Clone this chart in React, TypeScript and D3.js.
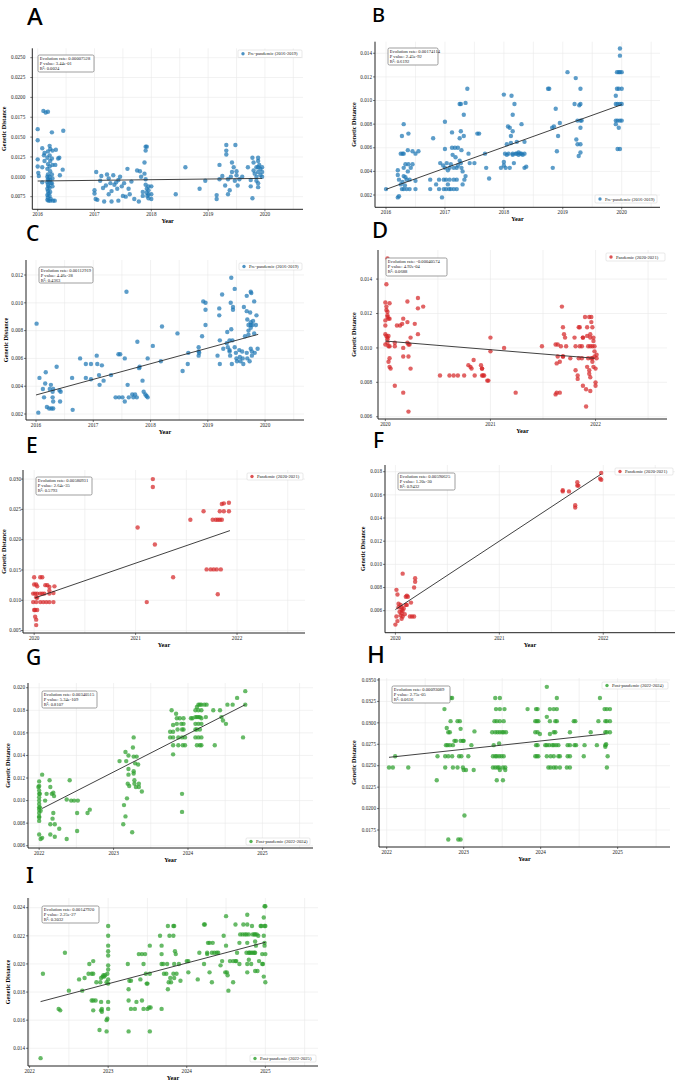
import React from 'react';
import * as d3 from 'd3';

type Pt = [number, number];

// ---------- A: pre-pandemic ----------
const ptsA: Pt[] = [
  [2016.0, 0.016], [2016.0, 0.0146], [2016.0, 0.0122], [2016.0, 0.0113], [2016.01, 0.0105], [2016.02, 0.0101],
  [2016.08, 0.0136], [2016.08, 0.0112], [2016.08, 0.0093],
  [2016.1, 0.0183], [2016.14, 0.0181], [2016.12, 0.013], [2016.11, 0.0127], [2016.12, 0.012],
  [2016.18, 0.0182], [2016.18, 0.0132], [2016.17, 0.0124], [2016.18, 0.0116], [2016.17, 0.011], [2016.18, 0.0103],
  [2016.17, 0.01], [2016.18, 0.0097], [2016.19, 0.0095], [2016.17, 0.0093], [2016.18, 0.009], [2016.19, 0.0088],
  [2016.17, 0.0085], [2016.18, 0.0082], [2016.19, 0.0079], [2016.17, 0.0077], [2016.18, 0.0074], [2016.17, 0.0071], [2016.19, 0.007],
  [2016.21, 0.0139], [2016.22, 0.0135], [2016.21, 0.0127], [2016.22, 0.012], [2016.21, 0.0113], [2016.22, 0.0107],
  [2016.21, 0.01], [2016.22, 0.0096], [2016.23, 0.0092], [2016.21, 0.0086], [2016.22, 0.0081], [2016.21, 0.0076], [2016.23, 0.0072], [2016.22, 0.007],
  [2016.25, 0.0156], [2016.26, 0.0133], [2016.25, 0.0123], [2016.26, 0.0115], [2016.25, 0.0103], [2016.26, 0.0098],
  [2016.25, 0.0092], [2016.26, 0.0088], [2016.27, 0.007],
  [2016.32, 0.0134], [2016.31, 0.0115], [2016.3, 0.007], [2016.38, 0.0124], [2016.36, 0.0123], [2016.39, 0.0102],
  [2016.45, 0.0158], [2016.44, 0.0109],
  [2017.0, 0.0083], [2017.0, 0.0079], [2017.02, 0.0072], [2017.03, 0.0106], [2017.05, 0.0071], [2017.1, 0.0095],
  [2017.12, 0.0101], [2017.15, 0.0086], [2017.17, 0.0069], [2017.2, 0.0089], [2017.22, 0.0103], [2017.25, 0.0098],
  [2017.25, 0.0078], [2017.28, 0.0092], [2017.3, 0.0082], [2017.3, 0.0069], [2017.33, 0.0102], [2017.35, 0.009],
  [2017.38, 0.0093], [2017.4, 0.0085], [2017.42, 0.0096], [2017.42, 0.007], [2017.45, 0.01], [2017.48, 0.0088],
  [2017.5, 0.0076], [2017.52, 0.0092], [2017.55, 0.0075], [2017.58, 0.011], [2017.6, 0.0085], [2017.62, 0.0078],
  [2017.65, 0.0094], [2017.7, 0.0072], [2017.75, 0.0108], [2017.78, 0.0069], [2017.8, 0.0107], [2017.82, 0.01],
  [2017.85, 0.0081], [2017.85, 0.0076], [2017.88, 0.0118], [2017.88, 0.0104], [2017.9, 0.0138], [2017.9, 0.0133],
  [2017.9, 0.0097], [2017.9, 0.009], [2017.92, 0.0138], [2017.92, 0.0085], [2017.92, 0.008], [2017.93, 0.0076],
  [2017.95, 0.0088], [2017.95, 0.0083], [2017.95, 0.0078], [2017.95, 0.0073], [2018.0, 0.0088], [2018.0, 0.0078], [2018.0, 0.0072],
  [2018.43, 0.0078], [2018.6, 0.0112], [2018.85, 0.0085],
  [2018.95, 0.0095], [2019.15, 0.0072], [2019.15, 0.0077], [2019.2, 0.0115], [2019.2, 0.0097], [2019.25, 0.0101],
  [2019.3, 0.0089], [2019.32, 0.014], [2019.32, 0.0133], [2019.32, 0.0128], [2019.35, 0.0078], [2019.35, 0.0097],
  [2019.38, 0.0083], [2019.4, 0.01], [2019.42, 0.0106], [2019.42, 0.0118], [2019.45, 0.0112], [2019.47, 0.0095],
  [2019.48, 0.014], [2019.5, 0.0102], [2019.52, 0.0089], [2019.5, 0.0107], [2019.55, 0.0097], [2019.6, 0.01],
  [2019.7, 0.0112], [2019.75, 0.0088], [2019.75, 0.0096], [2019.78, 0.0073], [2019.78, 0.0124], [2019.8, 0.0118],
  [2019.8, 0.0108], [2019.82, 0.0104], [2019.85, 0.0112], [2019.85, 0.01], [2019.85, 0.0095], [2019.88, 0.0124],
  [2019.88, 0.012], [2019.88, 0.0112], [2019.88, 0.0106], [2019.88, 0.0092], [2019.88, 0.0087], [2019.9, 0.0115],
  [2019.92, 0.011], [2019.92, 0.0102], [2019.95, 0.0112], [2019.95, 0.0106], [2019.95, 0.01],
];
const fitA: Pt[] = [[2016.0, 0.00947], [2019.95, 0.0098]];
const yTicksA = [0.0075, 0.01, 0.0125, 0.015, 0.0175, 0.02, 0.0225, 0.025];
const statsA = ['Evolution rate: 0.00007528', 'P value: 3.44e-01', 'R²: 0.0024'];

// ---------- B: pre-pandemic ----------
const ptsB: Pt[] = [
  [2016.0, 0.0025],
  [2016.2, 0.0018], [2016.22, 0.0019], [2016.2, 0.0041], [2016.2, 0.0037], [2016.22, 0.0033], [2016.25, 0.0055],
  [2016.27, 0.007], [2016.28, 0.0055], [2016.28, 0.0031], [2016.3, 0.0025], [2016.3, 0.0055], [2016.3, 0.008],
  [2016.3, 0.0043], [2016.32, 0.0028], [2016.33, 0.0035], [2016.33, 0.0046], [2016.35, 0.0025], [2016.35, 0.0033],
  [2016.37, 0.004], [2016.37, 0.0058], [2016.38, 0.0072], [2016.38, 0.0046], [2016.4, 0.0025], [2016.4, 0.0033],
  [2016.42, 0.0043], [2016.45, 0.0046], [2016.45, 0.0057], [2016.5, 0.0025], [2016.5, 0.0032], [2016.5, 0.0055],
  [2016.55, 0.0057], [2016.3, 0.0036], [2016.27, 0.0025], [2016.25, 0.0029],
  [2016.75, 0.0033], [2016.75, 0.0025], [2016.8, 0.0068], [2016.85, 0.0029], [2016.9, 0.0025], [2016.9, 0.0033],
  [2016.92, 0.0047], [2016.95, 0.0018], [2016.97, 0.0045], [2016.98, 0.0033], [2016.98, 0.0025], [2017.0, 0.0082],
  [2017.0, 0.0059], [2017.0, 0.0043], [2017.02, 0.0025], [2017.02, 0.0033], [2017.03, 0.0047], [2017.05, 0.0041],
  [2017.05, 0.0029], [2017.07, 0.0025], [2017.08, 0.0033], [2017.08, 0.0043], [2017.1, 0.0046], [2017.1, 0.0025],
  [2017.12, 0.0073], [2017.12, 0.006], [2017.13, 0.0054], [2017.15, 0.0043], [2017.15, 0.0033], [2017.15, 0.0025],
  [2017.17, 0.006], [2017.18, 0.0052], [2017.2, 0.0043], [2017.2, 0.0025], [2017.2, 0.0033], [2017.22, 0.006],
  [2017.22, 0.0045], [2017.25, 0.0049], [2017.25, 0.0068], [2017.25, 0.0097], [2017.27, 0.0097], [2017.27, 0.0074],
  [2017.27, 0.0047], [2017.28, 0.0043], [2017.28, 0.0058], [2017.3, 0.004], [2017.3, 0.0029], [2017.32, 0.0088],
  [2017.32, 0.007], [2017.33, 0.0033], [2017.35, 0.0036], [2017.35, 0.0098], [2017.38, 0.011], [2017.4, 0.0055],
  [2017.42, 0.0047], [2017.5, 0.0047], [2017.55, 0.0072], [2017.58, 0.0072],
  [2017.68, 0.0055], [2017.7, 0.0043], [2017.75, 0.0034], [2017.95, 0.0043], [2018.0, 0.0105], [2018.0, 0.0048],
  [2018.0, 0.0045], [2018.02, 0.0055], [2018.03, 0.0043], [2018.05, 0.0063], [2018.07, 0.0078], [2018.08, 0.0055],
  [2018.1, 0.0077], [2018.1, 0.0043], [2018.12, 0.0064], [2018.12, 0.007], [2018.13, 0.0104], [2018.15, 0.0088],
  [2018.15, 0.0074], [2018.15, 0.0055], [2018.17, 0.0047], [2018.18, 0.0097], [2018.2, 0.0055], [2018.22, 0.0065],
  [2018.25, 0.0056], [2018.28, 0.0055], [2018.3, 0.008], [2018.3, 0.0055], [2018.35, 0.0065], [2018.35, 0.0043],
  [2018.35, 0.0055], [2018.38, 0.0044], [2018.05, 0.0054], [2018.15, 0.0054], [2018.22, 0.0055], [2018.25, 0.0054], [2018.32, 0.0054],
  [2018.75, 0.011], [2018.77, 0.011], [2018.82, 0.0077], [2018.83, 0.0043], [2018.85, 0.0078], [2018.88, 0.0093],
  [2018.9, 0.0057], [2018.92, 0.007], [2018.95, 0.0081], [2019.08, 0.0124], [2019.2, 0.0097], [2019.22, 0.0119],
  [2019.23, 0.0067], [2019.25, 0.0063], [2019.25, 0.0083], [2019.27, 0.0053], [2019.28, 0.0096], [2019.3, 0.011],
  [2019.3, 0.0097], [2019.3, 0.0083], [2019.3, 0.0077], [2019.3, 0.0063], [2019.3, 0.0056], [2019.32, 0.0083],
  [2019.92, 0.0124], [2019.95, 0.0124], [2019.97, 0.0124], [2020.0, 0.0124], [2019.97, 0.0144], [2019.97, 0.0138],
  [2019.9, 0.0104], [2019.92, 0.011], [2019.95, 0.011], [2020.0, 0.011], [2019.9, 0.0097], [2019.93, 0.0097],
  [2019.97, 0.0097], [2020.0, 0.0097], [2019.9, 0.0083], [2019.93, 0.0083], [2019.97, 0.0083], [2020.0, 0.0083],
  [2019.95, 0.0077], [2019.93, 0.0059], [2019.97, 0.0059], [2019.9, 0.008],
];
const fitB: Pt[] = [[2016.0, 0.00248], [2020.0, 0.00965]];
const yTicksB = [0.002, 0.004, 0.006, 0.008, 0.01, 0.012, 0.014];
const statsB = ['Evolution rate: 0.00174114', 'P value: 2.45e-92', 'R²: 0.6192'];

// ---------- C: pre-pandemic ----------
const ptsC: Pt[] = [
  [2016.01, 0.0085], [2016.04, 0.0021], [2016.06, 0.0046], [2016.12, 0.0038], [2016.14, 0.0032], [2016.16, 0.0042],
  [2016.17, 0.005], [2016.19, 0.0025], [2016.23, 0.0024], [2016.24, 0.0038], [2016.26, 0.0041], [2016.27, 0.0024],
  [2016.29, 0.0032], [2016.29, 0.0036], [2016.3, 0.0038], [2016.3, 0.0029], [2016.3, 0.0024], [2016.36, 0.0054],
  [2016.41, 0.0037], [2016.43, 0.0036], [2016.42, 0.0029], [2016.63, 0.0046], [2016.64, 0.0023], [2016.77, 0.006],
  [2016.87, 0.0056], [2016.87, 0.0046], [2016.96, 0.0056], [2016.96, 0.0045], [2017.06, 0.0062], [2017.07, 0.0056],
  [2017.1, 0.0048], [2017.11, 0.0041], [2017.15, 0.0055], [2017.18, 0.0044], [2017.31, 0.0048], [2017.39, 0.0032],
  [2017.45, 0.0032], [2017.51, 0.0032], [2017.44, 0.0063], [2017.47, 0.0063], [2017.55, 0.006], [2017.55, 0.0029],
  [2017.58, 0.0108], [2017.6, 0.0041], [2017.62, 0.0032], [2017.68, 0.0034], [2017.7, 0.0032], [2017.73, 0.0034],
  [2017.76, 0.0032], [2017.77, 0.0072], [2017.8, 0.0053], [2017.81, 0.0054], [2017.86, 0.0044], [2017.88, 0.0036],
  [2017.91, 0.0034], [2017.93, 0.0033], [2017.95, 0.0032], [2017.95, 0.006], [2018.04, 0.0069], [2018.18, 0.0058],
  [2018.2, 0.0083], [2018.47, 0.0078], [2018.56, 0.0051], [2018.65, 0.0056], [2018.66, 0.0064], [2018.84, 0.0068],
  [2018.84, 0.0065], [2018.84, 0.0062], [2018.85, 0.0064], [2018.9, 0.0076], [2018.92, 0.0101], [2018.96, 0.01],
  [2018.96, 0.0095], [2018.96, 0.0084], [2019.17, 0.0062], [2019.2, 0.0091], [2019.2, 0.0096], [2019.21, 0.0073],
  [2019.21, 0.0056], [2019.25, 0.0106], [2019.27, 0.0067], [2019.34, 0.0079], [2019.33, 0.0071], [2019.35, 0.0068],
  [2019.38, 0.0073], [2019.38, 0.0066], [2019.38, 0.0065], [2019.39, 0.0062], [2019.4, 0.01], [2019.41, 0.0081],
  [2019.42, 0.0056], [2019.41, 0.0118], [2019.43, 0.0073], [2019.44, 0.0095], [2019.44, 0.0097], [2019.47, 0.011],
  [2019.47, 0.0068], [2019.49, 0.0064], [2019.5, 0.006], [2019.51, 0.0058], [2019.55, 0.0066], [2019.56, 0.0061],
  [2019.57, 0.0058], [2019.6, 0.0065], [2019.61, 0.006], [2019.62, 0.0056], [2019.63, 0.0097], [2019.65, 0.0076],
  [2019.68, 0.0105], [2019.68, 0.0094], [2019.69, 0.0088], [2019.68, 0.0064], [2019.69, 0.006], [2019.71, 0.0084],
  [2019.71, 0.008], [2019.71, 0.0077], [2019.73, 0.0058], [2019.74, 0.0093], [2019.75, 0.0108], [2019.76, 0.0107],
  [2019.75, 0.0086], [2019.75, 0.0084], [2019.75, 0.0082], [2019.75, 0.0067], [2019.77, 0.0065], [2019.77, 0.0062],
  [2019.78, 0.0084], [2019.79, 0.0087], [2019.81, 0.0101], [2019.81, 0.0078], [2019.82, 0.0064], [2019.85, 0.0091],
  [2019.87, 0.0067], [2019.84, 0.0084],
];
const fitC: Pt[] = [[2016.0, 0.00337], [2019.88, 0.00773]];
const yTicksC = [0.002, 0.004, 0.006, 0.008, 0.01, 0.012];
const statsC = ['Evolution rate: 0.00112919', 'P value: 4.46e-28', 'R²: 0.4363'];

// ---------- D: pandemic ----------
const ptsD: Pt[] = [
  [2020.02, 0.0152], [2020.01, 0.0137], [2020.0, 0.01264], [2020.01, 0.0124], [2020.01, 0.0122], [2020.02, 0.0121],
  [2020.02, 0.0119], [2020.0, 0.0116], [2020.0, 0.0113], [2020.02, 0.0118], [2020.03, 0.0117], [2020.04, 0.0126],
  [2020.04, 0.0117], [2020.0, 0.0108], [2020.01, 0.0107], [2020.02, 0.0106], [2020.03, 0.0107], [2020.0, 0.0102],
  [2020.02, 0.0103], [2020.03, 0.0101], [2020.04, 0.0101], [2020.02, 0.0105], [2020.03, 0.0092], [2020.04, 0.0094],
  [2020.04, 0.0089], [2020.05, 0.0088], [2020.09, 0.0103], [2020.09, 0.0101], [2020.09, 0.0078], [2020.11, 0.0113],
  [2020.14, 0.0113], [2020.16, 0.0114], [2020.17, 0.0117], [2020.17, 0.01], [2020.17, 0.0095], [2020.17, 0.0074],
  [2020.21, 0.0127], [2020.21, 0.0115], [2020.21, 0.0103], [2020.22, 0.0095], [2020.22, 0.0102], [2020.23, 0.0102],
  [2020.22, 0.0063], [2020.24, 0.0088], [2020.24, 0.0106], [2020.28, 0.0114], [2020.31, 0.0123], [2020.31, 0.0129],
  [2020.31, 0.0108], [2020.36, 0.0124],
  [2020.52, 0.0084], [2020.61, 0.0084], [2020.65, 0.0084], [2020.69, 0.0084], [2020.75, 0.0084], [2020.79, 0.009],
  [2020.81, 0.0089], [2020.82, 0.0088], [2020.84, 0.0093], [2020.85, 0.0084], [2020.91, 0.009], [2020.92, 0.0088],
  [2020.92, 0.0088], [2020.92, 0.0084], [2020.93, 0.0084], [2020.94, 0.0084], [2020.97, 0.0081], [2020.98, 0.0081],
  [2021.0, 0.0098], [2021.0, 0.0106], [2021.13, 0.01], [2021.24, 0.0074], [2021.49, 0.0101],
  [2021.62, 0.0102], [2021.63, 0.0091], [2021.64, 0.0102], [2021.62, 0.0073], [2021.63, 0.0074], [2021.66, 0.0074],
  [2021.64, 0.0095], [2021.66, 0.0092], [2021.67, 0.0101], [2021.68, 0.0124], [2021.69, 0.0112], [2021.69, 0.0095],
  [2021.69, 0.0095], [2021.7, 0.0108], [2021.71, 0.0106], [2021.72, 0.0101], [2021.76, 0.0094], [2021.8, 0.0106],
  [2021.81, 0.0101], [2021.81, 0.0087], [2021.83, 0.0084], [2021.83, 0.0082], [2021.84, 0.0094], [2021.84, 0.0112],
  [2021.85, 0.0112], [2021.85, 0.0101], [2021.87, 0.0101], [2021.88, 0.0106], [2021.88, 0.0106], [2021.87, 0.0094],
  [2021.88, 0.0078], [2021.9, 0.0118], [2021.91, 0.0076], [2021.91, 0.0066], [2021.92, 0.0089], [2021.92, 0.0112],
  [2021.92, 0.0107], [2021.93, 0.0101], [2021.93, 0.0094], [2021.94, 0.0118], [2021.94, 0.0087], [2021.94, 0.0085],
  [2021.95, 0.0083], [2021.95, 0.0075], [2021.95, 0.0108], [2021.95, 0.0106], [2021.95, 0.0101], [2021.96, 0.0094],
  [2021.96, 0.0118], [2021.96, 0.0115], [2021.97, 0.0112], [2021.97, 0.0101], [2021.97, 0.0094], [2021.97, 0.0092],
  [2021.98, 0.0089], [2021.98, 0.0106], [2021.98, 0.0104], [2021.99, 0.0101], [2021.99, 0.0098], [2021.99, 0.0095],
  [2022.0, 0.008], [2022.0, 0.0078], [2022.0, 0.0088], [2022.01, 0.0096], [2022.01, 0.0094],
];
const fitD: Pt[] = [[2020.0, 0.0104], [2021.99, 0.0094]];
const yTicksD = [0.006, 0.008, 0.01, 0.012, 0.014];
const statsD = ['Evolution rate: -0.00040574', 'P value: 4.92e-04', 'R²: 0.0688'];

// ---------- E: pandemic ----------
const ptsE: Pt[] = [
  [2020.0, 0.0138], [2020.06, 0.0138], [2020.08, 0.0138], [2020.0, 0.0126], [2020.02, 0.0126], [2020.03, 0.0123],
  [2019.99, 0.0111], [2020.01, 0.0111], [2020.03, 0.0111], [2020.06, 0.0111], [2020.08, 0.0111], [2020.1, 0.0111],
  [2020.15, 0.0111], [2020.19, 0.0112],
  [2019.99, 0.0097], [2020.02, 0.0097], [2020.06, 0.0097], [2020.09, 0.0097], [2020.12, 0.0097], [2020.15, 0.0097], [2020.19, 0.0097],
  [2020.0, 0.0084], [2020.01, 0.0084], [2020.03, 0.0084], [2020.01, 0.0073], [2020.02, 0.0068], [2020.02, 0.0059],
  [2020.02, 0.0105], [2020.03, 0.0104], [2020.11, 0.0125], [2020.13, 0.0125], [2020.15, 0.0122], [2020.2, 0.0123],
  [2020.15, 0.0116],
  [2021.02, 0.022], [2021.11, 0.0097], [2021.17, 0.03], [2021.17, 0.0287], [2021.19, 0.0192], [2021.37, 0.0138],
  [2021.54, 0.0233], [2021.67, 0.0247], [2021.76, 0.0233], [2021.79, 0.0233], [2021.81, 0.0233], [2021.83, 0.0233],
  [2021.85, 0.0233], [2021.83, 0.0247], [2021.87, 0.0247], [2021.92, 0.0247], [2021.85, 0.0259], [2021.87, 0.026],
  [2021.92, 0.0261], [2021.7, 0.0151], [2021.74, 0.0151], [2021.77, 0.0151], [2021.8, 0.0151], [2021.84, 0.0151],
  [2021.81, 0.011],
];
const fitE: Pt[] = [[2020.01, 0.0104], [2021.93, 0.0215]];
const yTicksE = [0.005, 0.01, 0.015, 0.02, 0.025, 0.03];
const statsE = ['Evolution rate: 0.00580931', 'P value: 2.64e-35', 'R²: 0.5793'];

// ---------- F: pandemic ----------
const ptsF: Pt[] = [
  [2020.01, 0.0078], [2020.02, 0.0074], [2020.07, 0.0092], [2020.03, 0.0066], [2020.03, 0.0063], [2020.05, 0.0065],
  [2020.06, 0.0063], [2020.06, 0.0061], [2020.07, 0.006], [2020.06, 0.0058], [2020.08, 0.0062], [2020.04, 0.0059],
  [2020.05, 0.0056], [2020.07, 0.0055], [2020.09, 0.0057], [2020.1, 0.0072], [2020.11, 0.0073], [2020.12, 0.0072],
  [2020.1, 0.0065], [2020.11, 0.0065], [2020.15, 0.0067], [2020.19, 0.0088], [2020.19, 0.0085], [2020.18, 0.008],
  [2020.01, 0.0055], [2020.02, 0.0051], [2020.0, 0.0048], [2020.06, 0.0053], [2020.14, 0.0055], [2020.16, 0.0055],
  [2020.18, 0.0055],
  [2021.61, 0.0164], [2021.61, 0.0163], [2021.67, 0.0163], [2021.73, 0.0151], [2021.73, 0.0149], [2021.75, 0.0171],
  [2021.75, 0.0168], [2021.76, 0.0168], [2021.98, 0.0179], [2021.97, 0.0174], [2021.98, 0.0173],
];
const fitF: Pt[] = [[2020.0, 0.0061], [2021.98, 0.0178]];
const yTicksF = [0.006, 0.008, 0.01, 0.012, 0.014, 0.016, 0.018];
const statsF = ['Evolution rate: 0.00590625', 'P value: 1.20e-30', 'R²: 0.9432'];

// ---------- G: post-pandemic ----------
const ptsG: Pt[] = [
  [2022.0, 0.0117], [2022.0, 0.0113], [2022.0, 0.0109], [2022.0, 0.0106], [2022.0, 0.0103], [2022.0, 0.01],
  [2022.0, 0.0097], [2022.0, 0.0094], [2022.0, 0.0092], [2022.0, 0.0089], [2022.0, 0.0086], [2022.0, 0.0082],
  [2021.99, 0.0112], [2022.01, 0.0106], [2022.01, 0.0094], [2022.02, 0.0091], [2022.0, 0.0085],
  [2022.0, 0.007], [2022.02, 0.0066], [2022.04, 0.0067], [2022.04, 0.0123], [2022.08, 0.01], [2022.1, 0.0106],
  [2022.14, 0.0118], [2022.15, 0.0112], [2022.15, 0.0079], [2022.15, 0.007], [2022.17, 0.0106], [2022.19, 0.0107],
  [2022.2, 0.0104], [2022.19, 0.0089], [2022.18, 0.0084], [2022.21, 0.0079], [2022.21, 0.0068], [2022.27, 0.0075],
  [2022.37, 0.0101], [2022.37, 0.0066], [2022.41, 0.0118], [2022.43, 0.01], [2022.47, 0.01], [2022.52, 0.01],
  [2022.51, 0.0089], [2022.51, 0.0073], [2022.65, 0.0089], [2022.68, 0.0092],
  [2023.08, 0.0135], [2023.13, 0.0079], [2023.14, 0.0096], [2023.16, 0.0143], [2023.17, 0.0135], [2023.16, 0.0086],
  [2023.18, 0.0102], [2023.19, 0.0115], [2023.2, 0.014], [2023.2, 0.0128], [2023.21, 0.0113], [2023.2, 0.0123],
  [2023.25, 0.0072], [2023.27, 0.0156], [2023.26, 0.0147], [2023.27, 0.0139], [2023.27, 0.0126], [2023.27, 0.0124],
  [2023.28, 0.0118], [2023.28, 0.0115], [2023.29, 0.0133], [2023.3, 0.0112], [2023.31, 0.0139], [2023.33, 0.0132],
  [2023.34, 0.0115], [2023.34, 0.0112], [2023.38, 0.0108],
  [2023.76, 0.0161], [2023.76, 0.0156], [2023.78, 0.018], [2023.8, 0.0167], [2023.8, 0.0161], [2023.8, 0.0156],
  [2023.8, 0.0149], [2023.8, 0.0141], [2023.84, 0.0177], [2023.85, 0.0173], [2023.85, 0.0168], [2023.86, 0.0163],
  [2023.87, 0.0156], [2023.87, 0.0149], [2023.89, 0.0173], [2023.91, 0.0168], [2023.92, 0.0163], [2023.92, 0.0156],
  [2023.93, 0.0149], [2023.92, 0.0106], [2023.92, 0.009], [2023.94, 0.0173], [2023.94, 0.0168], [2023.94, 0.0163],
  [2023.96, 0.0156], [2023.96, 0.0149],
  [2024.04, 0.0173], [2024.06, 0.0173], [2024.1, 0.018], [2024.12, 0.0183], [2024.14, 0.0185], [2024.16, 0.0185],
  [2024.18, 0.0185], [2024.22, 0.0185], [2024.25, 0.0185], [2024.1, 0.0174], [2024.12, 0.0174], [2024.14, 0.0174],
  [2024.16, 0.0174], [2024.18, 0.0173], [2024.1, 0.0168], [2024.14, 0.0168], [2024.18, 0.0168], [2024.1, 0.0163],
  [2024.12, 0.0163], [2024.16, 0.0163], [2024.1, 0.0156], [2024.14, 0.0156], [2024.18, 0.0156], [2024.12, 0.0149],
  [2024.16, 0.0149], [2024.18, 0.0149], [2024.14, 0.018], [2024.18, 0.018], [2024.24, 0.0174],
  [2024.34, 0.018], [2024.36, 0.0149], [2024.43, 0.018], [2024.45, 0.0174], [2024.47, 0.0171], [2024.51, 0.0168],
  [2024.53, 0.0185], [2024.6, 0.0185], [2024.66, 0.0191], [2024.74, 0.0156], [2024.77, 0.0197], [2024.77, 0.0185],
];
const fitG: Pt[] = [[2022.04, 0.0093], [2024.77, 0.0185]];
const yTicksG = [0.006, 0.008, 0.01, 0.012, 0.014, 0.016, 0.018, 0.02];
const statsG = ['Evolution rate: 0.00340515', 'P value: 5.34e-109', 'R²: 0.8107'];

// ---------- H: post-pandemic ----------
const ptsH: Pt[] = [
  [2022.03, 0.0248], [2022.08, 0.0248], [2022.11, 0.0261], [2022.28, 0.0248], [2022.65, 0.0233], [2022.66, 0.0261],
  [2022.75, 0.0316], [2022.76, 0.0261], [2022.77, 0.0274], [2022.79, 0.0274], [2022.82, 0.0274], [2022.86, 0.0274],
  [2022.78, 0.0294], [2022.8, 0.0289], [2022.82, 0.0289], [2022.76, 0.0248], [2022.8, 0.0261], [2022.83, 0.0302],
  [2022.83, 0.0329], [2022.85, 0.0329], [2022.8, 0.0164], [2022.85, 0.0261], [2022.86, 0.0248], [2022.88, 0.0279],
  [2022.9, 0.0279], [2022.92, 0.0248], [2022.92, 0.0302], [2022.95, 0.0302], [2022.93, 0.0164], [2022.96, 0.0164],
  [2022.94, 0.0261], [2022.97, 0.0261], [2022.96, 0.0293], [2022.96, 0.0279], [2022.99, 0.0279], [2023.0, 0.0279],
  [2022.99, 0.0248], [2023.0, 0.0245], [2023.03, 0.0245], [2023.01, 0.0192], [2023.06, 0.0261], [2023.1, 0.0274],
  [2023.13, 0.0245], [2023.14, 0.029],
  [2023.37, 0.0289], [2023.39, 0.0274], [2023.41, 0.0329], [2023.47, 0.0329], [2023.42, 0.0316], [2023.47, 0.0316],
  [2023.53, 0.0316], [2023.4, 0.0302], [2023.43, 0.0302], [2023.47, 0.0302], [2023.52, 0.0302], [2023.41, 0.0289],
  [2023.44, 0.0289], [2023.47, 0.0289], [2023.5, 0.0289], [2023.52, 0.0289], [2023.55, 0.0289], [2023.38, 0.0261],
  [2023.41, 0.0261], [2023.43, 0.0261], [2023.46, 0.0261], [2023.49, 0.0261], [2023.52, 0.0261], [2023.38, 0.0248],
  [2023.41, 0.0248], [2023.44, 0.0248], [2023.46, 0.0248], [2023.51, 0.0248], [2023.54, 0.0248], [2023.43, 0.0233],
  [2023.51, 0.0233], [2023.46, 0.0276], [2023.47, 0.0245], [2023.54, 0.0245],
  [2023.83, 0.0316], [2023.94, 0.0316], [2023.96, 0.0316], [2023.93, 0.0302], [2023.95, 0.0302], [2023.97, 0.0302],
  [2023.93, 0.0289], [2023.96, 0.0289], [2023.99, 0.0287], [2023.94, 0.0274], [2023.96, 0.0274], [2023.93, 0.0261],
  [2023.95, 0.0261], [2023.97, 0.0261],
  [2024.08, 0.0342], [2024.08, 0.0307], [2024.06, 0.0274], [2024.08, 0.0274], [2024.11, 0.0274], [2024.15, 0.0274],
  [2024.17, 0.0274], [2024.2, 0.0274], [2024.23, 0.0274], [2024.08, 0.0261], [2024.13, 0.0261], [2024.17, 0.0261],
  [2024.1, 0.0248], [2024.13, 0.0248], [2024.17, 0.0248], [2024.2, 0.0248], [2024.25, 0.0248], [2024.12, 0.0302],
  [2024.19, 0.0302], [2024.21, 0.0302], [2024.12, 0.0287], [2024.17, 0.0289], [2024.19, 0.0289], [2024.12, 0.0316],
  [2024.17, 0.0316], [2024.21, 0.0329], [2024.21, 0.0316], [2024.23, 0.0261], [2024.25, 0.0261],
  [2024.35, 0.0274], [2024.38, 0.0274], [2024.35, 0.0261], [2024.38, 0.0261], [2024.34, 0.0248], [2024.38, 0.0248],
  [2024.38, 0.0289], [2024.43, 0.0302], [2024.45, 0.0302], [2024.44, 0.0274], [2024.46, 0.0274], [2024.56, 0.0261],
  [2024.57, 0.0274], [2024.65, 0.0289], [2024.73, 0.0274], [2024.75, 0.0302], [2024.77, 0.0329], [2024.83, 0.0316],
  [2024.86, 0.0316], [2024.9, 0.0316], [2024.84, 0.0302], [2024.86, 0.0302], [2024.9, 0.0302], [2024.84, 0.0289],
  [2024.86, 0.0289], [2024.9, 0.0289], [2024.84, 0.0274], [2024.85, 0.0275], [2024.84, 0.0272], [2024.86, 0.0248],
  [2024.87, 0.0261],
];
const fitH: Pt[] = [[2022.03, 0.02598], [2024.84, 0.0287]];
const yTicksH = [0.0175, 0.02, 0.0225, 0.025, 0.0275, 0.03, 0.0325, 0.035];
const statsH = ['Evolution rate: 0.00093089', 'P value: 2.75e-05', 'R²: 0.0616'];

// ---------- I: post-pandemic ----------
const ptsI: Pt[] = [
  [2022.14, 0.0133], [2022.17, 0.0193], [2022.37, 0.0168], [2022.39, 0.0167], [2022.45, 0.0208], [2022.5, 0.0181],
  [2022.63, 0.0189], [2022.67, 0.0181], [2022.7, 0.019], [2022.76, 0.02], [2022.81, 0.0202], [2022.75, 0.0193],
  [2022.79, 0.0193], [2022.81, 0.0193], [2022.79, 0.0174], [2022.81, 0.0174], [2022.84, 0.0174], [2022.81, 0.0167],
  [2022.85, 0.0187], [2022.89, 0.0153], [2022.91, 0.019], [2022.93, 0.0191], [2022.95, 0.0191], [2022.9, 0.0187],
  [2022.91, 0.0173], [2022.91, 0.0167], [2022.92, 0.0166], [2022.92, 0.0168], [2022.94, 0.0192], [2022.96, 0.0192],
  [2022.98, 0.0152], [2022.98, 0.016], [2022.99, 0.0161], [2022.98, 0.0187], [2022.99, 0.0193], [2023.0, 0.0196],
  [2023.0, 0.0199], [2023.0, 0.0227], [2023.0, 0.022], [2023.0, 0.0213], [2023.0, 0.0209], [2023.0, 0.0206],
  [2023.0, 0.0189], [2023.0, 0.0186], [2023.0, 0.0173], [2023.0, 0.0168],
  [2023.25, 0.02], [2023.26, 0.0182], [2023.26, 0.0174], [2023.26, 0.0152], [2023.27, 0.0188], [2023.29, 0.0188],
  [2023.29, 0.0168], [2023.34, 0.0168], [2023.36, 0.0173], [2023.39, 0.0207], [2023.43, 0.0207], [2023.47, 0.0207],
  [2023.41, 0.0189], [2023.43, 0.0174], [2023.45, 0.02], [2023.45, 0.0168], [2023.48, 0.0193], [2023.49, 0.0186],
  [2023.5, 0.0186], [2023.5, 0.0168], [2023.52, 0.0169], [2023.54, 0.0169], [2023.53, 0.0213], [2023.53, 0.0193],
  [2023.53, 0.0152],
  [2023.66, 0.022], [2023.68, 0.0213], [2023.68, 0.0207], [2023.68, 0.02], [2023.68, 0.0168], [2023.7, 0.02],
  [2023.71, 0.0193], [2023.74, 0.0193], [2023.75, 0.02], [2023.76, 0.0227], [2023.76, 0.0182], [2023.77, 0.0187],
  [2023.78, 0.022], [2023.79, 0.019], [2023.8, 0.0187], [2023.83, 0.0227], [2023.84, 0.0227], [2023.83, 0.022],
  [2023.83, 0.0193], [2023.84, 0.019], [2023.84, 0.02], [2023.85, 0.0209], [2023.86, 0.0207], [2023.87, 0.0193],
  [2023.9, 0.02], [2023.92, 0.0188],
  [2024.0, 0.0202], [2024.02, 0.0202], [2024.02, 0.0194], [2024.14, 0.0189], [2024.16, 0.0208], [2024.22, 0.0228],
  [2024.23, 0.0228], [2024.22, 0.02], [2024.26, 0.0207], [2024.26, 0.0208], [2024.27, 0.0215], [2024.29, 0.0215],
  [2024.33, 0.0215], [2024.29, 0.0194], [2024.32, 0.0187], [2024.32, 0.0208], [2024.35, 0.0208], [2024.38, 0.0208],
  [2024.4, 0.0208], [2024.43, 0.0199], [2024.45, 0.0202], [2024.47, 0.022], [2024.49, 0.0194], [2024.51, 0.0194],
  [2024.5, 0.0213], [2024.5, 0.0234], [2024.52, 0.0192], [2024.53, 0.0181], [2024.55, 0.0202], [2024.59, 0.0202],
  [2024.62, 0.0202], [2024.59, 0.0187], [2024.62, 0.0228], [2024.63, 0.0202], [2024.64, 0.0208], [2024.67, 0.0215],
  [2024.67, 0.02], [2024.68, 0.0221], [2024.71, 0.0221], [2024.74, 0.0221], [2024.76, 0.0221], [2024.79, 0.0221],
  [2024.72, 0.0228], [2024.77, 0.0228], [2024.76, 0.0208], [2024.79, 0.0208], [2024.8, 0.0208], [2024.82, 0.0208],
  [2024.84, 0.0208], [2024.86, 0.0208], [2024.87, 0.0208], [2024.77, 0.0235], [2024.77, 0.0215], [2024.77, 0.02],
  [2024.79, 0.0203], [2024.77, 0.0194], [2024.82, 0.02], [2024.83, 0.0227], [2024.84, 0.0221], [2024.86, 0.0221],
  [2024.87, 0.0221], [2024.89, 0.0221], [2024.91, 0.022], [2024.87, 0.0216], [2024.88, 0.0213], [2024.87, 0.0195],
  [2024.9, 0.0195], [2024.92, 0.0202], [2024.94, 0.0227], [2024.95, 0.0227], [2024.96, 0.02], [2024.97, 0.02],
  [2024.96, 0.0207], [2024.98, 0.0233], [2024.98, 0.022], [2024.99, 0.0215], [2024.98, 0.0191], [2024.99, 0.0227],
  [2025.0, 0.0227], [2024.99, 0.0241], [2025.0, 0.0241], [2024.99, 0.0213], [2025.0, 0.0207], [2025.0, 0.0187],
];
const fitI: Pt[] = [[2022.14, 0.01732], [2025.0, 0.02154]];
const yTicksI = [0.014, 0.016, 0.018, 0.02, 0.022, 0.024];
const statsI = ['Evolution rate: 0.00147920', 'P value: 2.25e-27', 'R²: 0.3032'];

const yearsPre = [2016, 2017, 2018, 2019, 2020];
const yearsPan = [2020, 2021, 2022];
const yearsPost = [2022, 2023, 2024, 2025];

const legendPre = 'Pre-pandemic (2016-2019)';
const legendPan = 'Pandemic (2020-2021)';
const legendPost = 'Post-pandemic (2022-2024)';
const legendPost25 = 'Post-pandemic (2022-2025)';

const BLUE = '#1f77b4';
const RED = '#d62728';
const GREEN = '#2ca02c';

interface PanelSpec {
  letter: string; letterX: number; letterY: number; letterSize: number;
  l: number; r: number; t: number; b: number;
  xDom: [number, number]; yDom: [number, number];
  pts: Pt[]; fit: Pt[]; yTicks: number[]; xTicks: number[]; fmt: string;
  stats: string[]; statBox: number[]; legend: string; legBox: number[];
  color: string; titleX: number; gap: number;
}

const panels: PanelSpec[] = [
  { letter: 'A', letterX: 27, letterY: 25, letterSize: 24, l: 32.3, r: 303, t: 48.3, b: 209.3,
    xDom: [2015.905, 2020.67], yDom: [0.00591, 0.02618], pts: ptsA, fit: fitA, yTicks: yTicksA, xTicks: yearsPre,
    fmt: '.4f', stats: statsA, statBox: [38, 55, 56, 17], legend: legendPre, legBox: [238, 50, 64, 7.5], color: BLUE, titleX: 6, gap: 7 },
  { letter: 'B', letterX: 372, letterY: 22, letterSize: 20, l: 375, r: 660, t: 41.7, b: 207.3,
    xDom: [2015.813, 2020.65], yDom: [0.00096, 0.01498], pts: ptsB, fit: fitB, yTicks: yTicksB, xTicks: yearsPre,
    fmt: '.3f', stats: statsB, statBox: [388, 48, 50, 17], legend: legendPre, legBox: [595, 195, 62, 8], color: BLUE, titleX: 356, gap: 3 },
  { letter: 'C', letterX: 26, letterY: 241, letterSize: 21, l: 26, r: 304, t: 260, b: 420,
    xDom: [2015.825, 2020.68], yDom: [0.00157, 0.01308], pts: ptsC, fit: fitC, yTicks: yTicksC, xTicks: yearsPre,
    fmt: '.3f', stats: statsC, statBox: [39, 267, 54, 16], legend: legendPre, legBox: [239, 263, 63, 7], color: BLUE, titleX: 8, gap: 3 },
  { letter: 'D', letterX: 372, letterY: 238, letterSize: 22, l: 378, r: 667, t: 250, b: 419,
    xDom: [2019.93, 2022.68], yDom: [0.00587, 0.01569], pts: ptsD, fit: fitD, yTicks: yTicksD, xTicks: yearsPan,
    fmt: '.3f', stats: statsD, statBox: [386, 258, 61, 18], legend: legendPan, legBox: [606, 253, 59, 8], color: RED, titleX: 356, gap: 6 },
  { letter: 'E', letterX: 26, letterY: 453, letterSize: 21, l: 23, r: 305, t: 470, b: 633,
    xDom: [2019.89, 2022.67], yDom: [0.0046, 0.0315], pts: ptsE, fit: fitE, yTicks: yTicksE, xTicks: yearsPan,
    fmt: '.3f', stats: statsE, statBox: [36, 477, 56, 18], legend: legendPan, legBox: [247, 473, 56, 7], color: RED, titleX: 6, gap: 2 },
  { letter: 'F', letterX: 373, letterY: 448, letterSize: 21, l: 385, r: 675, t: 465, b: 632.7,
    xDom: [2019.9, 2022.69], yDom: [0.0041, 0.01858], pts: ptsF, fit: fitF, yTicks: yTicksF, xTicks: yearsPan,
    fmt: '.3f', stats: statsF, statBox: [398, 473, 57, 17], legend: legendPan, legBox: [615, 468, 58, 7], color: RED, titleX: 365, gap: 3 },
  { letter: 'G', letterX: 26, letterY: 665, letterSize: 21, l: 28, r: 313, t: 683, b: 848,
    xDom: [2021.85, 2025.68], yDom: [0.0058, 0.02042], pts: ptsG, fit: fitG, yTicks: yTicksG, xTicks: yearsPost,
    fmt: '.3f', stats: statsG, statBox: [42, 691, 55, 17], legend: legendPost, legBox: [246, 838, 64, 7], color: GREEN, titleX: 10, gap: 3 },
  { letter: 'H', letterX: 367, letterY: 663, letterSize: 24, l: 379, r: 670, t: 678, b: 847,
    xDom: [2021.9, 2025.68], yDom: [0.01552, 0.03523], pts: ptsH, fit: fitH, yTicks: yTicksH, xTicks: yearsPost,
    fmt: '.4f', stats: statsH, statBox: [392, 686, 58, 17], legend: legendPost, legBox: [602, 682, 66, 7], color: GREEN, titleX: 356, gap: 3 },
  { letter: 'I', letterX: 26, letterY: 883, letterSize: 22, l: 28, r: 318, t: 898, b: 1066,
    xDom: [2021.98, 2025.67], yDom: [0.01274, 0.02469], pts: ptsI, fit: fitI, yTicks: yTicksI, xTicks: yearsPost,
    fmt: '.3f', stats: statsI, statBox: [42, 906, 57, 17], legend: legendPost25, legBox: [250, 1055, 66, 7], color: GREEN, titleX: 10, gap: 3 },
];

const SERIF = "'Liberation Serif', 'Times New Roman', serif";

function Panel({ p }: { p: PanelSpec }) {
  const x = d3.scaleLinear().domain(p.xDom).range([p.l, p.r]);
  const y = d3.scaleLinear().domain(p.yDom).range([p.b, p.t]);
  const halfYears = d3.range(Math.ceil(p.xDom[0] * 2) / 2, p.xDom[1], 0.5);
  const fmt = d3.format(p.fmt);
  const line = d3.line<Pt>().x(d => x(d[0])).y(d => y(d[1]));
  const [sx, sy, sw, sh] = p.statBox;
  const [lx, ly, lw, lh] = p.legBox;

  return (
    <g>
      <text x={p.letterX} y={p.letterY} fontSize={p.letterSize} fontFamily="'Noto Sans', sans-serif" fontWeight={500}>{p.letter}</text>

      {/* grid */}
      {halfYears.map(g => (
        <line key={'gx' + g} x1={x(g)} x2={x(g)} y1={p.t} y2={p.b} stroke="#e9e9e9" strokeWidth={0.6} />
      ))}
      {p.yTicks.map(v => (
        <line key={'gy' + v} x1={p.l} x2={p.r} y1={y(v)} y2={y(v)} stroke="#e9e9e9" strokeWidth={0.6} />
      ))}

      {/* points */}
      {p.pts.map((d, i) => (
        <circle key={i} cx={x(d[0])} cy={y(d[1])} r={2.2} fill={p.color} fillOpacity={0.72} />
      ))}

      {/* regression line */}
      <path d={line(p.fit) || ''} fill="none" stroke="#2b2b2b" strokeWidth={0.9} />

      {/* axes */}
      <line x1={p.l} x2={p.l} y1={p.t} y2={p.b} stroke="#222" strokeWidth={1} />
      <line x1={p.l} x2={p.r} y1={p.b} y2={p.b} stroke="#222" strokeWidth={1} />
      {p.yTicks.map(v => (
        <g key={'yt' + v}>
          <line x1={p.l - 2} x2={p.l} y1={y(v)} y2={y(v)} stroke="#222" strokeWidth={0.6} />
          <text x={p.l - p.gap} y={y(v)} dy="0.33em" textAnchor="end" fontSize={5.2} fontFamily={SERIF} fill="#222">{fmt(v)}</text>
        </g>
      ))}
      {p.xTicks.map(v => (
        <g key={'xt' + v}>
          <line x1={x(v)} x2={x(v)} y1={p.b} y2={p.b + 2} stroke="#222" strokeWidth={0.6} />
          <text x={x(v)} y={p.b + 6.8} textAnchor="middle" fontSize={5.2} fontFamily={SERIF} fill="#222">{v}</text>
        </g>
      ))}

      {/* titles */}
      <text x={(p.l + p.r) / 2} y={p.b + 13.8} textAnchor="middle" fontSize={6.2} fontWeight="bold" fontFamily={SERIF}>Year</text>
      <text transform={`translate(${p.titleX},${(p.t + p.b) / 2}) rotate(-90)`} textAnchor="middle" fontSize={6.2}
        fontWeight="bold" fontFamily={SERIF}>Genetic Distance</text>

      {/* stats box */}
      <rect x={sx} y={sy} width={sw} height={sh} rx={1.5} fill="#fff" stroke="#777" strokeWidth={0.7} />
      {p.stats.map((s, i) => (
        <text key={s} x={sx + 1.8} y={sy + 5 + i * 4.9} fontSize={4.6} fontFamily={SERIF} fill="#222">{s}</text>
      ))}

      {/* legend */}
      <rect x={lx} y={ly} width={lw} height={lh} rx={1} fill="#fff" stroke="#d0d0d0" strokeWidth={0.5} />
      <circle cx={lx + 5} cy={ly + lh / 2} r={1.7} fill={p.color} fillOpacity={0.8} />
      <text x={lx + 10} y={ly + lh / 2} dy="0.33em" fontSize={4.6} fontFamily={SERIF} fill="#222">{p.legend}</text>
    </g>
  );
}

export default function App() {
  return (
    <div style={{ position: 'absolute', left: 0, top: 0, background: '#fff' }}>
      <svg width={677} height={1084} viewBox="0 0 677 1084" style={{ display: 'block', background: '#fff' }}>
        {panels.map(p => <Panel key={p.letter} p={p} />)}
      </svg>
    </div>
  );
}
